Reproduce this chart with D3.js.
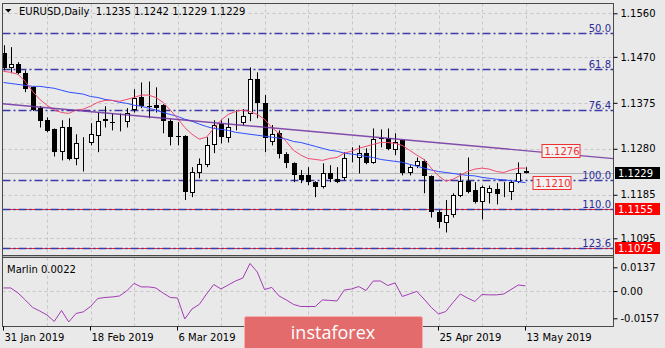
<!DOCTYPE html>
<html><head><meta charset="utf-8">
<script src="https://cdn.jsdelivr.net/npm/d3@7"></script>
<style>html,body{margin:0;padding:0;background:#e9e9e9;}svg{display:block;font-family:"DejaVu Sans",sans-serif;}</style>
</head><body><svg id="c" width="665" height="348"></svg>
<script>
const dates=["2019-01-31","2019-02-01","2019-02-04","2019-02-05","2019-02-06","2019-02-07","2019-02-08","2019-02-11","2019-02-12","2019-02-13","2019-02-14","2019-02-15","2019-02-18","2019-02-19","2019-02-20","2019-02-21","2019-02-22","2019-02-25","2019-02-26","2019-02-27","2019-02-28","2019-03-01","2019-03-04","2019-03-05","2019-03-06","2019-03-07","2019-03-08","2019-03-11","2019-03-12","2019-03-13","2019-03-14","2019-03-15","2019-03-18","2019-03-19","2019-03-20","2019-03-21","2019-03-22","2019-03-25","2019-03-26","2019-03-27","2019-03-28","2019-03-29","2019-04-01","2019-04-02","2019-04-03","2019-04-04","2019-04-05","2019-04-08","2019-04-09","2019-04-10","2019-04-11","2019-04-12","2019-04-15","2019-04-16","2019-04-17","2019-04-18","2019-04-19","2019-04-22","2019-04-23","2019-04-24","2019-04-25","2019-04-26","2019-04-29","2019-04-30","2019-05-01","2019-05-02","2019-05-03","2019-05-06","2019-05-07","2019-05-08","2019-05-09","2019-05-10","2019-05-13"];
const open=[1.1477,1.1446,1.1455,1.1436,1.1407,1.1364,1.1339,1.1320,1.1273,1.1324,
1.1258,1.1291,1.1291,1.1306,1.1341,1.1335,1.1334,1.1335,1.1360,1.1388,
1.1368,1.1370,1.1370,1.1337,1.1306,1.1306,1.1188,1.1229,1.1246,1.1287,
1.1331,1.1302,1.1329,1.1333,1.1351,1.1424,1.1374,1.1295,1.1312,1.1269,
1.1250,1.1225,1.1225,1.1211,1.1200,1.1229,1.1217,1.1219,1.1264,1.1260,
1.1271,1.1250,1.1302,1.1302,1.1277,1.1298,1.1229,1.1244,1.1254,1.1224,
1.1149,1.1126,1.1143,1.1182,1.1213,1.1194,1.1169,1.1188,1.1196,1.1188,
1.1190,1.1211,1.1235];
const high=[1.1494,1.1490,1.1459,1.1442,1.1409,1.1368,1.1345,1.1322,1.1339,1.1343,
1.1310,1.1304,1.1333,1.1355,1.1368,1.1353,1.1353,1.1364,1.1403,1.1417,
1.1419,1.1407,1.1372,1.1341,1.1335,1.1308,1.1242,1.1260,1.1304,1.1339,
1.1339,1.1343,1.1360,1.1362,1.1448,1.1438,1.1391,1.1329,1.1318,1.1273,
1.1252,1.1236,1.1242,1.1213,1.1250,1.1246,1.1242,1.1273,1.1283,1.1287,
1.1281,1.1322,1.1320,1.1322,1.1312,1.1299,1.1246,1.1262,1.1258,1.1225,
1.1153,1.1174,1.1188,1.1229,1.1262,1.1211,1.1204,1.1204,1.1209,1.1211,
1.1215,1.1252,1.1242];
const low=[1.1442,1.1436,1.1434,1.1397,1.1358,1.1324,1.1314,1.1264,1.1256,1.1256,
1.1246,1.1233,1.1287,1.1273,1.1324,1.1318,1.1316,1.1324,1.1355,1.1364,
1.1343,1.1355,1.1312,1.1287,1.1287,1.1174,1.1180,1.1219,1.1242,1.1271,
1.1291,1.1293,1.1318,1.1329,1.1337,1.1343,1.1273,1.1287,1.1260,1.1240,
1.1211,1.1209,1.1205,1.1180,1.1198,1.1211,1.1209,1.1215,1.1252,1.1229,
1.1248,1.1249,1.1283,1.1277,1.1267,1.1225,1.1225,1.1240,1.1188,1.1138,
1.1116,1.1107,1.1138,1.1180,1.1188,1.1167,1.1134,1.1167,1.1165,1.1180,
1.1174,1.1209,1.1229];
const close=[1.1446,1.1455,1.1436,1.1403,1.1360,1.1337,1.1316,1.1273,1.1324,1.1258,
1.1291,1.1293,1.1310,1.1337,1.1337,1.1334,1.1336,1.1353,1.1384,1.1368,
1.1367,1.1364,1.1337,1.1304,1.1305,1.1190,1.1231,1.1248,1.1287,1.1329,
1.1304,1.1324,1.1330,1.1347,1.1424,1.1374,1.1302,1.1310,1.1269,1.1250,
1.1225,1.1215,1.1211,1.1202,1.1229,1.1217,1.1211,1.1260,1.1265,1.1271,
1.1250,1.1300,1.1301,1.1279,1.1293,1.1229,1.1242,1.1254,1.1224,1.1149,
1.1128,1.1143,1.1184,1.1213,1.1190,1.1169,1.1200,1.1198,1.1186,1.1189,
1.1211,1.1229,1.1229];
const maFast=[1.1440,1.1438,1.1434,1.1419,1.1399,1.1382,1.1370,1.1360,1.1355,1.1353,
1.1360,1.1362,1.1368,1.1376,1.1380,1.1380,1.1378,1.1382,1.1386,1.1391,
1.1391,1.1386,1.1376,1.1360,1.1343,1.1324,1.1310,1.1300,1.1304,1.1322,
1.1339,1.1351,1.1357,1.1360,1.1357,1.1351,1.1341,1.1324,1.1312,1.1295,
1.1277,1.1267,1.1260,1.1258,1.1256,1.1260,1.1262,1.1271,1.1275,1.1281,
1.1285,1.1289,1.1293,1.1293,1.1291,1.1287,1.1277,1.1267,1.1258,1.1240,
1.1224,1.1213,1.1217,1.1225,1.1233,1.1238,1.1240,1.1238,1.1233,1.1231,
1.1236,1.1240,1.1240];
const maSlow=[1.1417,1.1415,1.1413,1.1411,1.1409,1.1409,1.1407,1.1405,1.1401,1.1397,
1.1395,1.1393,1.1388,1.1386,1.1382,1.1380,1.1376,1.1374,1.1370,1.1368,
1.1364,1.1360,1.1355,1.1351,1.1347,1.1341,1.1337,1.1331,1.1326,1.1322,
1.1320,1.1318,1.1314,1.1312,1.1310,1.1308,1.1306,1.1304,1.1302,1.1300,
1.1295,1.1293,1.1289,1.1285,1.1281,1.1277,1.1275,1.1271,1.1269,1.1267,
1.1264,1.1262,1.1258,1.1256,1.1254,1.1252,1.1248,1.1244,1.1240,1.1236,
1.1233,1.1231,1.1229,1.1227,1.1225,1.1224,1.1221,1.1219,1.1217,1.1216,
1.1214,1.1212,1.1210];
const marlin=[0.0018,0.0018,-0.0011,-0.0051,-0.0094,-0.0115,-0.0138,-0.0175,-0.0112,-0.0178,
-0.0129,-0.0120,-0.0089,-0.0043,-0.0037,-0.0034,-0.0028,0.0001,0.0044,0.0024,
0.0024,0.0018,-0.0011,-0.0037,-0.0040,-0.0161,-0.0103,-0.0077,-0.0017,0.0038,
0.0012,0.0035,0.0058,0.0075,0.0159,0.0110,0.0009,0.0021,-0.0028,-0.0051,
-0.0077,-0.0089,-0.0089,-0.0089,-0.0051,-0.0054,-0.0057,0.0006,0.0012,0.0026,
0.0003,0.0058,0.0058,0.0032,0.0047,-0.0031,-0.0017,-0.0002,-0.0046,-0.0094,
-0.0132,-0.0118,-0.0066,-0.0017,-0.0040,-0.0060,-0.0020,-0.0022,-0.0022,-0.0017,
0.0009,0.0035,0.0030];
const priceTicks=[1.1560,1.1470,1.1375,1.1280,1.1185,1.1095];
const marlinTicks=[0.0137,0,-0.0157];
const marlinTickLabels=["0.0137","0.00","-0.0157"];
// labels for 22 Mar and 9 Apr are hidden under the watermark in the reference
const xTickDates=["2019-01-31","2019-02-18","2019-03-06","2019-04-25","2019-05-13"];
const xTickLabels=["31 Jan 2019","18 Feb 2019","6 Mar 2019","25 Apr 2019","13 May 2019"];
const fibLabels=["50.0","61.8","76.4","100.0","110.0","123.6"];
const fibPrices=[1.1519,1.1444,1.1360,1.1215,1.1155,1.1075];
const redLevels=[1.1155,1.1075];
const trendPrices=[1.1373,1.1276];
const lastQuote=[1.1235,1.1242,1.1229,1.1229];
const marlinLast="0.0022";

const svg=d3.select("#c");
const L=2.5,R=613.5,MT=3.5,MB=255.5,IT=257.5,IB=326.5;
const x=d3.scalePoint().domain(dates).range([3.5,525.5]);
const y=d3.scaleLinear().domain([1.1095,1.1560]).range([238.3,13.3]);
const ym=d3.scaleLinear().domain([-0.0157,0.0137]).range([318.3,267.3]);
const f4=d3.format(".4f");

svg.append("rect").attr("width",665).attr("height",348).attr("fill","#e9e9e9");
const defs=svg.append("defs");
defs.append("clipPath").attr("id","cm").append("rect").attr("x",L).attr("y",MT).attr("width",R-L).attr("height",MB-MT);
defs.append("clipPath").attr("id","ci").append("rect").attr("x",L).attr("y",IT).attr("width",R-L).attr("height",IB-IT);

const main=svg.append("g").attr("clip-path","url(#cm)");
const ind=svg.append("g").attr("clip-path","url(#ci)");
const gridColor="#c6c6c6";
dates.forEach((d,i)=>{ if(i%6===0&&i>0){
  const gx=Math.round(x(d))+0.5;
  main.append("line").attr("x1",gx).attr("x2",gx).attr("y1",MT).attr("y2",MB).attr("stroke",gridColor).attr("stroke-dasharray","3,3");
  ind.append("line").attr("x1",gx).attr("x2",gx).attr("y1",IT).attr("y2",IB).attr("stroke",gridColor).attr("stroke-dasharray","3,3");
}});
priceTicks.forEach(p=>{const gy=Math.round(y(p))+0.5;
  main.append("line").attr("x1",L).attr("x2",R).attr("y1",gy).attr("y2",gy).attr("stroke",gridColor).attr("stroke-dasharray","3,3");});
{const gy=Math.round(ym(0))+0.5;
 ind.append("line").attr("x1",L).attr("x2",R).attr("y1",gy).attr("y2",gy).attr("stroke",gridColor).attr("stroke-dasharray","3,3");}

main.append("line").attr("x1",L).attr("x2",R).attr("y1",Math.round(y(lastQuote[3]))+0.5).attr("y2",Math.round(y(lastQuote[3]))+0.5).attr("stroke","#b4b4b4");
redLevels.forEach(p=>{const gy=Math.round(y(p))+0.5;
  main.append("line").attr("x1",L).attr("x2",R).attr("y1",gy).attr("y2",gy).attr("stroke","#ff2020").attr("stroke-width",1);});
fibPrices.forEach((p,k)=>{const gy=Math.round(y(p))+0.5;
  main.append("line").attr("x1",L).attr("x2",R).attr("y1",gy).attr("y2",gy).attr("stroke","#3a3aa8").attr("stroke-width",1.4).attr("stroke-dasharray","8,3,2,3");
  main.append("text").attr("x",611).attr("y",gy-1.5).attr("text-anchor","end").attr("font-size",10).attr("fill","#2c2c9a").text(fibLabels[k]);
});

const cg=main.append("g");
dates.forEach((d,i)=>{
  const cx=Math.round(x(d));
  const o=open[i],c=close[i];
  cg.append("line").attr("x1",cx+0.5).attr("x2",cx+0.5).attr("y1",y(high[i])).attr("y2",y(low[i])).attr("stroke","#000");
  const top=Math.round(y(Math.max(o,c))), bot=Math.round(y(Math.min(o,c)));
  const h=Math.max(1,bot-top);
  if(c<o){
    cg.append("rect").attr("x",cx-2).attr("y",top).attr("width",5).attr("height",h).attr("fill","#000");
  } else {
    cg.append("rect").attr("x",cx-1.5).attr("y",top+0.5).attr("width",4).attr("height",Math.max(0,h-1)).attr("fill","#fff").attr("stroke","#000");
  }
});

const lineP=arr=>d3.line().x((d,i)=>x(dates[i])).y(d=>y(d))(arr);
main.append("path").attr("d",lineP(maSlow)).attr("fill","none").attr("stroke","#2f4dff").attr("stroke-width",1);
main.append("path").attr("d",lineP(maFast)).attr("fill","none").attr("stroke","#f04a6e").attr("stroke-width",1);
{
  const x0=x(dates[0]),x1=x(dates[dates.length-1]);
  const y0=y(trendPrices[0]),y1=y(trendPrices[1]);
  const s=(y1-y0)/(x1-x0);
  main.append("line").attr("x1",L).attr("y1",y0+(L-x0)*s).attr("x2",R).attr("y2",y0+(R-x0)*s).attr("stroke","#7030a0").attr("stroke-width",1.4).attr("stroke-opacity",0.85);
}
function valBox(px,val,color){
  const cy=y(val);
  main.append("rect").attr("x",px+0.5).attr("y",Math.round(cy-7)+0.5).attr("width",38).attr("height",13).attr("fill","#f2f2f2").attr("stroke",color);
  main.append("text").attr("x",px+3).attr("y",Math.round(cy)+4).attr("font-size",10).attr("fill",color).text(f4(val));
}
valBox(x(dates[72])+16,trendPrices[1],"#f03030");
valBox(x(dates[72])+7,maSlow[72],"#f03030");

svg.append("rect").attr("x",L).attr("y",MT).attr("width",R-L).attr("height",MB-MT).attr("fill","none").attr("stroke","#4a4a4a");
svg.append("rect").attr("x",L).attr("y",MB).attr("width",R-L).attr("height",IT-MB).attr("fill","#b8b8b8").attr("stroke","#4a4a4a");
svg.append("rect").attr("x",L).attr("y",IT).attr("width",R-L).attr("height",IB-IT).attr("fill","none").attr("stroke","#4a4a4a");

const ax=svg.append("g").attr("transform",`translate(${R},0)`).call(d3.axisRight(y).tickValues(priceTicks).tickFormat(f4).tickSize(4).tickPadding(3));
ax.select(".domain").remove();
ax.selectAll("text").attr("font-size",10).attr("font-family","DejaVu Sans").attr("fill","#000");
ax.selectAll("line").attr("stroke","#000");
function priceBox(val,bg){
  const cy=Math.round(y(val));
  svg.append("rect").attr("x",615).attr("y",cy-6).attr("width",45).attr("height",12).attr("fill",bg);
  svg.append("text").attr("x",618).attr("y",cy+4).attr("font-size",10).attr("fill","#fff").text(f4(val));
}
priceBox(lastQuote[3],"#000");
redLevels.forEach(p=>priceBox(p,"#ff0000"));

ind.append("path").attr("d",d3.line().x((d,i)=>x(dates[i])).y(d=>ym(d))(marlin)).attr("fill","none").attr("stroke","#a23cb4").attr("stroke-width",1);
svg.append("text").attr("x",7).attr("y",273).attr("font-size",10).attr("fill","#000").text("Marlin "+marlinLast);
const axm=svg.append("g").attr("transform",`translate(${R},0)`).call(d3.axisRight(ym).tickValues(marlinTicks).tickFormat((d,i)=>marlinTickLabels[i]).tickSize(4).tickPadding(3));
axm.select(".domain").remove();
axm.selectAll("text").attr("font-size",10).attr("font-family","DejaVu Sans").attr("fill","#000");
axm.selectAll("line").attr("stroke","#000");

xTickDates.forEach((d,k)=>{
  const tx=Math.round(x(d))-0.5;
  svg.append("line").attr("x1",tx).attr("x2",tx).attr("y1",IB).attr("y2",IB+4).attr("stroke","#000");
  svg.append("text").attr("x",tx+1).attr("y",341).attr("font-size",10).attr("fill","#000").text(xTickLabels[k]);
});

svg.append("path").attr("d","M5,9 L11.5,9 L8.25,12.5 Z").attr("fill","#000");
svg.append("text").attr("x",19).attr("y",15).attr("font-size",10).attr("fill","#000").attr("xml:space","preserve").style("white-space","pre")
  .text("EURUSD,Daily  "+lastQuote.map(f4).join(" "));

svg.append("rect").attr("x",244.5).attr("y",316.5).attr("width",178).attr("height",40).attr("rx",2).attr("fill","#e36b6b").attr("stroke","#f2b0b0");
svg.append("text").attr("x",333).attr("y",339).attr("text-anchor","middle").attr("font-family","'Open Sans',sans-serif").attr("font-size",18).attr("fill","#fff").text("instaforex");
</script></body></html>
